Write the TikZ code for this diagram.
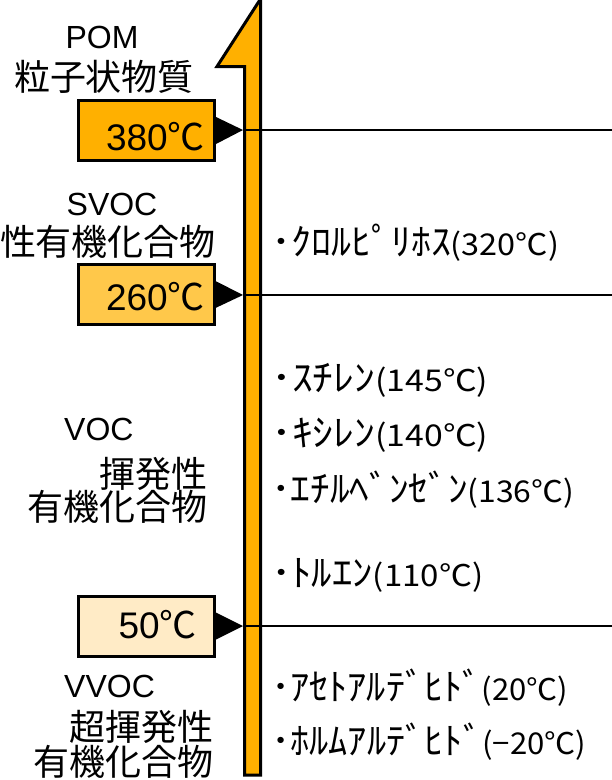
\documentclass[tikz,border=0pt]{standalone}
\usepackage{fontspec}
\usepackage{graphicx}
\usetikzlibrary{calc}
\setmainfont{Liberation Sans}
\newfontfamily\jp{Noto Sans CJK JP}
\newcommand{\fitw}[2]{\resizebox{#1}{\height}{#2}}
\newcommand{\kanapart}[1]{{\fontsize{37}{37}\selectfont #1}}
\definecolor{barorange}{HTML}{FFB000}
\definecolor{boxhigh}{HTML}{FFB000}
\definecolor{boxmid}{HTML}{FFC84A}
\definecolor{boxlow}{HTML}{FFEBC6}
\begin{document}
\begin{tikzpicture}[x=1pt,y=-1pt,
  tempbox/.style={draw=black, line width=3pt, minimum width=136pt, minimum height=60pt, inner sep=0pt},
  pointer/.style={fill=black, draw=none},
  levelline/.style={line width=2pt, draw=black},
  latinlab/.style={font=\fontsize{32}{32}\selectfont, inner sep=0pt},
  jplab/.style={font=\jp\fontsize{36}{36}\selectfont, inner sep=0pt},
  numlab/.style={font=\fontsize{37}{37}\selectfont, inner sep=0pt, anchor=base east},
  itemlab/.style={font=\jp\fontsize{30}{30}\selectfont, inner sep=0pt, anchor=base west}
]
\useasboundingbox (0,0) rectangle (612,780);

% vertical scale bar with arrow head at top
\draw[fill=barorange, line width=3pt, line join=miter]
  (260.5,-1) -- (260.5,775) -- (244.5,775) -- (244.5,66.5) -- (217,66.5) -- cycle;

% level boxes
\node[tempbox, fill=boxhigh] (b380) at (146.5,130.5) {};
\node[tempbox, fill=boxmid]  (b260) at (146,294.5) {};
\node[tempbox, fill=boxlow]  (b50)  at (146.5,626) {};

% pointer tips and right ends
\coordinate (t380) at (243,130);
\coordinate (t260) at (243,295);
\coordinate (t50)  at (243,626);
\coordinate (e380) at (612,130);
\coordinate (e260) at (612,295);
\coordinate (e50)  at (612,626);

\draw[levelline] (t380) -- (e380);
\draw[levelline] (t260) -- (e260);
\draw[levelline] (t50) -- (e50);

\fill[pointer] ($(b380.east)+(0,-13.5)$) -- (t380) -- ($(b380.east)+(0,13.5)$) -- cycle;
\fill[pointer] ($(b260.east)+(0,-13.5)$) -- (t260) -- ($(b260.east)+(0,13.5)$) -- cycle;
\fill[pointer] ($(b50.east)+(0,-13.5)$)  -- (t50)  -- ($(b50.east)+(0,13.5)$) -- cycle;

% numbers in boxes
\node[numlab] (n380) at (205,150) {380{\jp ℃}};
\node[numlab] (n260) at (205,310) {260{\jp ℃}};
\node[numlab] (n50)  at (197,638) {50{\jp ℃}};

% left group labels
\node[latinlab, anchor=base] (pom) at (102,48) {POM};
\node[jplab, anchor=base] (pomj) at (104,90) {粒子状物質};

\node[latinlab, anchor=base] (svoc) at (112,215) {SVOC};
\node[jplab, anchor=base] (svocj) at (108,255) {性有機化合物};

\node[latinlab, anchor=base west] (voc) at (64,440) {VOC};
\node[jplab, anchor=base east] (vocj1) at (208,487) {揮発性};
\node[jplab, anchor=base east] (vocj2) at (208,520) {有機化合物};

\node[latinlab, anchor=base west] (vvoc) at (64,697) {VVOC};
\node[jplab, anchor=base east] (vvocj1) at (214,740) {超揮発性};
\node[jplab, anchor=base east] (vvocj2) at (214,775) {有機化合物};

% compounds
\node[itemlab] (c1) at (271,255) {\fitw{288pt}{\kanapart{･ｸﾛﾙﾋﾟﾘﾎｽ}(320℃)}};
\node[itemlab] (c2) at (271,391) {\fitw{217pt}{\kanapart{･ｽﾁﾚﾝ}(145℃)}};
\node[itemlab] (c3) at (271,446) {\fitw{217pt}{\kanapart{･ｷｼﾚﾝ}(140℃)}};
\node[itemlab] (c4) at (271,502) {\fitw{303pt}{\kanapart{･ｴﾁﾙﾍﾞﾝｾﾞﾝ}(136℃)}};
\node[itemlab] (c5) at (271,586) {\fitw{212pt}{\kanapart{･ﾄﾙｴﾝ}(110℃)}};
\node[itemlab] (c6) at (271,700) {\fitw{297pt}{\kanapart{･ｱｾﾄｱﾙﾃﾞﾋﾄﾞ}(20℃)}};
\node[itemlab] (c7) at (271,754) {\fitw{315pt}{\kanapart{･ﾎﾙﾑｱﾙﾃﾞﾋﾄﾞ}(−20℃)}};
\end{tikzpicture}
\end{document}
